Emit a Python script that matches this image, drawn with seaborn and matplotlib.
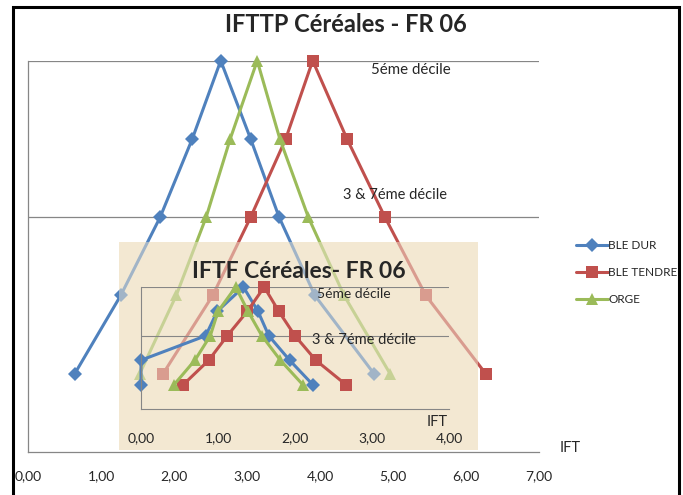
import numpy as np
import pandas as pd
import matplotlib
matplotlib.use("Agg")
import matplotlib.pyplot as plt
import seaborn as sns
from matplotlib.patches import Rectangle

sns.set_style("white")
plt.rcParams["font.family"] = ["Lato", "DejaVu Sans"]

# ===========================
# DATA
# ===========================

levels = [1, 2, 3, 4, 5, 4, 3, 2, 1]
decile_levels = [3, 5]

# IFTTP (main chart)
ifttp_ble_dur = [0.64, 1.27, 1.81, 2.25, 2.64, 3.05, 3.44, 3.93, 4.74]
ifttp_ble_tendre = [1.85, 2.53, 3.05, 3.53, 3.90, 4.37, 4.89, 5.45, 6.27]
ifttp_orge = [1.53, 2.03, 2.44, 2.77, 3.14, 3.45, 3.84, 4.33, 4.96]

# IFTF (inset chart)
iftf_ble_dur = [0.00, 0.00, 0.84, 0.99, 1.33, 1.52, 1.66, 1.93, 2.23]
iftf_ble_tendre = [0.55, 0.88, 1.12, 1.38, 1.60, 1.79, 2.00, 2.27, 2.66]
iftf_orge = [0.43, 0.70, 0.90, 1.00, 1.23, 1.39, 1.57, 1.81, 2.10]

series_names = ["BLE DUR", "BLE TENDRE", "ORGE"]
colors = ["#4F81BD", "#C0504D", "#9BBB59"]
markers = ["D", "s", "^"]
marker_sizes = [7, 8, 8]

main_xticks = [0, 1, 2, 3, 4, 5, 6, 7]
inset_xticks = [0, 1, 2, 3, 4]

# ===========================
# FIGURE
# ===========================

W, H = 683, 495
fig = plt.figure(figsize=(W / 100, H / 100), dpi=100)


def fx(px):
    return px / W


def fy(py):
    return 1 - py / H


def box(x0, y0, x1, y1):
    return [fx(x0), fy(y1), fx(x1) - fx(x0), fy(y0) - fy(y1)]


grey = "#868686"
beige = "#F3E8D2"

# opaque beige under the main chart
fig.add_artist(Rectangle((fx(119), fy(450)), fx(478) - fx(119), fy(242) - fy(450),
                         transform=fig.transFigure, facecolor=beige,
                         edgecolor="none", zorder=-1))

ax = fig.add_axes(box(28, 60.7, 539, 452))
ax.set_facecolor("none")

for vals, name, c, m, ms in zip([ifttp_ble_dur, ifttp_ble_tendre, ifttp_orge],
                                series_names, colors, markers, marker_sizes):
    sns.lineplot(x=vals, y=levels, ax=ax, color=c, marker=m, markersize=ms,
                 markeredgewidth=0, linewidth=2.2, sort=False, estimator=None,
                 label=name, clip_on=False)

ax.hlines(decile_levels, 0, 7, color=grey, linewidth=0.9, zorder=0)
ax.set_xlim(0, 7)
ax.set_ylim(0, 5)
ax.set_xticks(main_xticks)
ax.set_xticklabels([f"{v:.2f}".replace(".", ",") for v in main_xticks])
ax.set_yticks([0, 5])
ax.set_yticklabels([])
ax.tick_params(axis="both", direction="out", length=4, width=0.9, color=grey,
               labelsize=10, pad=9)
for s in ["top", "right"]:
    ax.spines[s].set_visible(False)
for s in ["left", "bottom"]:
    ax.spines[s].set_color(grey)
    ax.spines[s].set_linewidth(0.9)

leg = ax.legend(loc="upper left", bbox_to_anchor=(fx(576), fy(240)),
                bbox_transform=fig.transFigure, frameon=False, fontsize=8.5,
                handlelength=2.7, handletextpad=0.05, labelspacing=1.35,
                borderpad=0, borderaxespad=0)

fig.text(fx(371), fy(70), "5éme décile", fontsize=10.8, va="center")
fig.text(fx(343), fy(195), "3 & 7éme décile", fontsize=10.5, va="center")
fig.text(fx(560), fy(448), "IFT", fontsize=10.5, va="center")
fig.text(fx(346), fy(25), "IFTTP Céréales - FR 06", fontsize=17,
         fontweight="bold", ha="center", va="center")

# semi-transparent beige over the main lines
fig.add_artist(Rectangle((fx(119), fy(450)), fx(478) - fx(119), fy(242) - fy(450),
                         transform=fig.transFigure, facecolor=beige,
                         edgecolor="none", alpha=0.5, zorder=1))

# ===========================
# INSET CHART
# ===========================

ax2 = fig.add_axes(box(141, 287, 449, 409), zorder=2)
ax2.patch.set_alpha(0)

for vals, c, m, ms in zip([iftf_ble_dur, iftf_ble_tendre, iftf_orge],
                          colors, markers, marker_sizes):
    sns.lineplot(x=vals, y=levels, ax=ax2, color=c, marker=m, markersize=ms,
                 markeredgewidth=0, linewidth=2.2, sort=False, estimator=None,
                 legend=False, clip_on=False)

ax2.hlines(decile_levels, 0, 4, color=grey, linewidth=0.8, zorder=0)
ax2.set_xlim(0, 4)
ax2.set_ylim(0, 5)
ax2.set_xticks(inset_xticks)
ax2.set_xticklabels([f"{v:.2f}".replace(".", ",") for v in inset_xticks])
ax2.set_yticks([])
ax2.tick_params(axis="x", direction="in", length=3, width=0.8, color=grey,
                labelsize=10, pad=17)
for s in ["top", "right"]:
    ax2.spines[s].set_visible(False)
for s in ["left", "bottom"]:
    ax2.spines[s].set_color(grey)
    ax2.spines[s].set_linewidth(0.8)

fig.text(fx(299), fy(272), "IFTF Céréales- FR 06", fontsize=16.5,
         fontweight="bold", ha="center", va="center", zorder=3)
fig.text(fx(317), fy(294), "5éme décile", fontsize=10, va="center", zorder=3)
fig.text(fx(312), fy(340), "3 & 7éme décile", fontsize=10.5, va="center", zorder=3)
fig.text(fx(427), fy(422), "IFT", fontsize=10.5, va="center", zorder=3)

# outer frame
fig.add_artist(Rectangle((fx(13), -0.05), fx(679) - fx(13), fy(7) + 0.05,
                         transform=fig.transFigure, facecolor="none",
                         edgecolor="black", linewidth=2.2, zorder=4))

fig.savefig("out.png", dpi=100)
